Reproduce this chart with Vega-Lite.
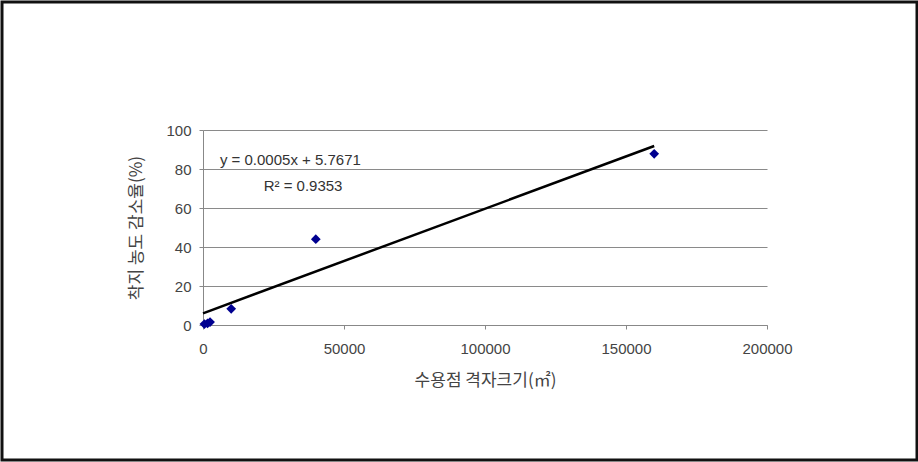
{
  "$schema": "https://vega.github.io/schema/vega-lite/v6.json",
  "width": 564,
  "height": 195,
  "autosize": "none",
  "padding": {"left": 203, "top": 130, "right": 151, "bottom": 137},
  "background": "white",
  "config": {
    "view": {"stroke": null},
    "font": "Liberation Sans"
  },
  "datasets": {
    "pts": [
      {"size": 500, "rate": 0.5},
      {"size": 1600, "rate": 0.8},
      {"size": 2500, "rate": 1.5},
      {"size": 10000, "rate": 8.3},
      {"size": 40000, "rate": 44},
      {"size": 160000, "rate": 87.8}
    ],
    "trend": [
      {"size": 0, "rate": 6.0},
      {"size": 160000, "rate": 91.8}
    ],
    "labels": [
      {"size": 6000, "rate": 84.5, "txt": "y  = 0.0005x  + 5.7671"},
      {"size": 21500, "rate": 71.5, "txt": "R² = 0.9353"}
    ],
    "frame": [{"k": 1}]
  },
  "encoding": {
    "x": {
      "field": "size", "type": "quantitative",
      "scale": {"domain": [0, 200000], "nice": false},
      "axis": {
        "title": "수용점 격자크기(㎡)",
        "titleFont": "Noto Sans CJK KR",
        "titleFontWeight": "normal",
        "titleFontSize": 17,
        "titleColor": "#444",
        "titlePadding": 16,
        "values": [0, 50000, 100000, 150000, 200000],
        "format": "d",
        "labelFontSize": 15,
        "labelColor": "#444",
        "labelPadding": 12,
        "labelOverlap": false,
        "labelFlush": false,
        "domainColor": "#888",
        "tickColor": "#888",
        "tickSize": 4,
        "grid": false
      }
    },
    "y": {
      "field": "rate", "type": "quantitative",
      "scale": {"domain": [0, 100], "nice": false},
      "axis": {
        "title": "착지 농도 감소율(%)",
        "titleFont": "Noto Sans CJK KR",
        "titleFontWeight": "normal",
        "titleFontSize": 17,
        "titleColor": "#444",
        "titlePadding": 20,
        "values": [0, 20, 40, 60, 80, 100],
        "labelFontSize": 15,
        "labelColor": "#444",
        "labelPadding": 8,
        "labelOverlap": false,
        "labelFlush": false,
        "labelBound": false,
        "domainColor": "#888",
        "tickColor": "#888",
        "tickSize": 4,
        "grid": true,
        "gridColor": "#8a8a8a",
        "gridWidth": 1.2
      }
    }
  },
  "layer": [
    {
      "data": {"name": "frame"},
      "mark": {"type": "rect", "fill": null, "stroke": "#111", "strokeWidth": 3, "clip": false},
      "encoding": {
        "x": {"value": -201},
        "x2": {"value": 714},
        "y": {"value": -128},
        "y2": {"value": 330}
      }
    },
    {
      "data": {"name": "trend"},
      "mark": {"type": "line", "color": "black", "strokeWidth": 2.5}
    },
    {
      "data": {"name": "pts"},
      "mark": {"type": "point", "shape": "diamond", "filled": true, "color": "#000090", "size": 95, "opacity": 1}
    },
    {
      "data": {"name": "labels"},
      "mark": {"type": "text", "align": "left", "baseline": "middle", "fontSize": 15, "color": "#333", "font": "Liberation Sans"},
      "encoding": {
        "text": {"field": "txt"}
      }
    }
  ]
}
